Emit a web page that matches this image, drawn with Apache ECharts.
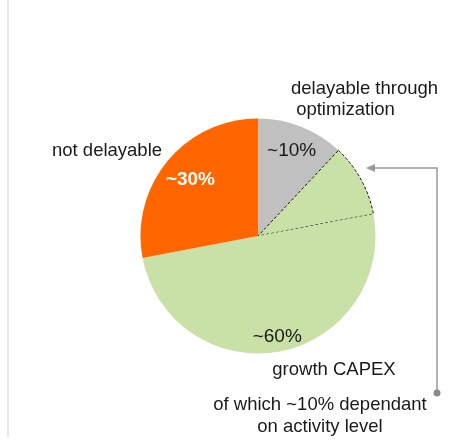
<!DOCTYPE html>
<html>
<head>
<meta charset="utf-8">
<script src="https://cdn.jsdelivr.net/npm/echarts@6/dist/echarts.min.js"></script>
<style>html,body{margin:0;padding:0;background:#fff}#c{width:474px;height:447px}</style>
</head>
<body>
<div id="c"></div>
<script>
// Data
var categories = ['delayable through optimization', 'growth CAPEX (activity dependant)', 'growth CAPEX', 'not delayable'];
var values = [12, 10, 50, 28];
var sliceLabels = ['~10%', '', '~60%', '~30%'];

// Styles
var colors = ['#c0c0c0', '#c9e0a6', '#c9e0a6', '#ff6600'];
var labelColors = ['#1a1a1a', '#1a1a1a', '#1a1a1a', '#ffffff'];
var labelWeights = ['normal', 'normal', 'normal', 'bold'];
var labelPush = [1.48, 1, 1.66, 1.42];
var CX = 258, CY = 236, R = 117.5;
var FONT = '"Liberation Sans", Arial, Helvetica, sans-serif';
var FS = 18.5;
var PFS = 19;

var chart = echarts.init(document.getElementById('c'), null, {renderer: 'canvas'});

var data = categories.map(function (c, i) {
  var item = {
    name: c,
    value: values[i],
    itemStyle: {color: colors[i]},
    label: {
      show: !!sliceLabels[i],
      formatter: sliceLabels[i],
      color: labelColors[i],
      fontWeight: labelWeights[i]
    }
  };
  if (i === 1) {
    item.itemStyle.borderColor = '#111';
    item.itemStyle.borderWidth = 1;
    item.itemStyle.borderType = [3, 2];
  }
  return item;
});

function txt(x, y, t, align) {
  return {
    type: 'text', x: x, y: y, silent: true,
    style: {text: t, font: FS + 'px ' + FONT, fill: '#1a1a1a', textAlign: align || 'left', textVerticalAlign: 'middle'}
  };
}

chart.setOption({
  animation: false,
  backgroundColor: '#fff',
  series: [{
    type: 'pie',
    center: [CX, CY],
    radius: [0, R],
    startAngle: 90,
    clockwise: true,
    silent: true,
    data: data,
    label: {
      position: 'inside',
      fontSize: PFS,
      fontFamily: FONT
    },
    labelLine: {show: false},
    labelLayout: function (p) {
      var r = p.labelRect;
      var lx = r.x + r.width / 2, ly = r.y + r.height / 2;
      var k = labelPush[p.dataIndex] - 1;
      return {dx: (lx - CX) * k, dy: (ly - CY) * k};
    },
    emphasis: {disabled: true}
  }],
  graphic: [
    {type: 'line', silent: true, shape: {x1: 8, y1: 0, x2: 8, y2: 437}, style: {stroke: '#e8e8e8', lineWidth: 2}},
    txt(52, 151, 'not delayable'),
    txt(291, 89, 'delayable through'),
    txt(291, 110, ' optimization'),
    txt(334, 370, 'growth CAPEX', 'center'),
    txt(320, 405, 'of which ~10% dependant', 'center'),
    txt(320, 427, 'on activity level', 'center'),
    {type: 'polyline', silent: true, shape: {points: [[437, 393], [437, 168], [372, 168]]}, style: {stroke: '#999', lineWidth: 1.5, fill: null}},
    {type: 'polygon', silent: true, shape: {points: [[366, 168], [375, 164], [375, 172]]}, style: {fill: '#999'}},
    {type: 'circle', silent: true, shape: {cx: 437, cy: 393, r: 3.5}, style: {fill: '#8a8a8a'}}
  ]
});
</script>
</body>
</html>
